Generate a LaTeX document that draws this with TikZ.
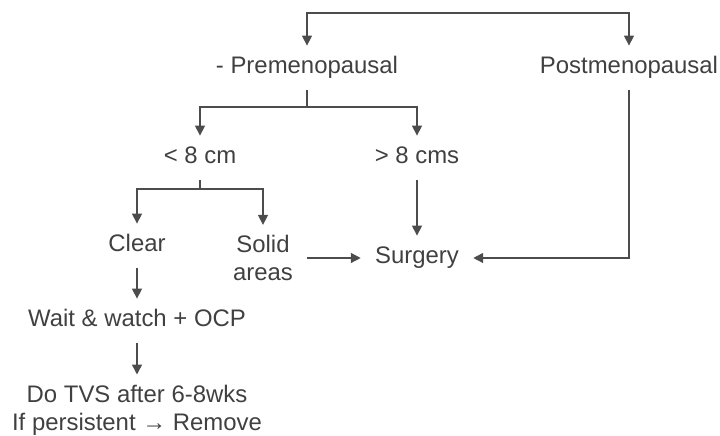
\documentclass[tikz,border=0pt]{standalone}
\usepackage{fontspec}
\setmainfont{Liberation Sans}
\usetikzlibrary{arrows.meta}

\tikzset{
  lbl/.style={font=\fontsize{12}{14}\selectfont, text=black!75, inner xsep=7bp, inner ysep=5bp},
  lblone/.style={lbl, text height=9bp, text depth=3bp},
  lbltwo/.style={lbl, align=center},
  wire/.style={draw=black!70, line width=0.7pt}
}

\begin{document}
\begin{tikzpicture}[x=0.5bp, y=-0.5bp, >={Triangle[width=5pt,length=5pt]}]
    \useasboundingbox (0,0) rectangle (720,436);
    % ---- the two groups
    \coordinate (top) at (467,13);
    \node[lblone] (pre) at (307,68) {- Premenopausal};
    \node[lblone] (post) at (629,68) {Postmenopausal};
    \draw[wire,->] (top) -| (pre);
    \draw[wire,->] (top) -| (post);
    % ---- premenopausal: split on size
    \coordinate (sizesplit) at (307,107);
    \node[lblone] (small) at (200,158) {< 8 cm};
    \node[lblone] (large) at (417,158) {> 8 cms};
    \draw[wire] (pre) -- (sizesplit);
    \draw[wire,->] (sizesplit) -| (small);
    \draw[wire,->] (sizesplit) -| (large);
    % ---- small cysts: clear or solid
    \coordinate (kindsplit) at (200,189);
    \node[lblone] (clear) at (137,246) {Clear};
    \node[lbltwo] (solid) at (263,258) {Solid\\areas};
    \draw[wire] (small) -- (kindsplit);
    \draw[wire,->] (kindsplit) -| (clear);
    \draw[wire,->] (kindsplit) -| (solid);
    % ---- surgery
    \node[lblone] (surgery) at (417,258) {Surgery};
    \draw[wire,->] (large) -- (surgery);
    \draw[wire,->] (solid) -- (surgery);
    \draw[wire,->] (post) |- (surgery);
    % ---- clear cysts: follow up
    \node[lblone] (wait) at (137,321) {Wait \& watch + OCP};
    \node[lbltwo] (tvs) at (137,410) {Do TVS after 6-8wks\\If persistent → Remove};
    \draw[wire,->] (clear) -- (wait);
    \draw[wire,->] (wait) -- (tvs);
\end{tikzpicture}
\end{document}
